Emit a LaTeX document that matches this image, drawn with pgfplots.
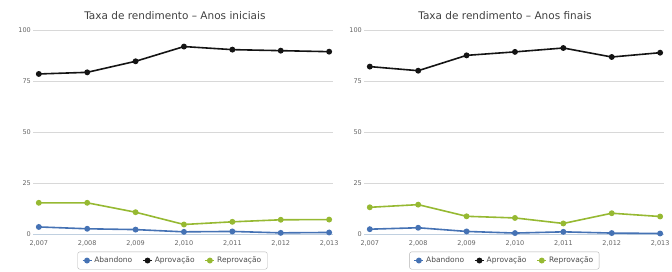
\documentclass[border=0pt]{standalone}
\usepackage{pgfplots}
\pgfplotsset{compat=1.18}
\usepackage{fontspec}
\setmainfont{DejaVu Sans}
\definecolor{cAb}{RGB}{69,114,180}
\definecolor{cAp}{RGB}{20,20,20}
\definecolor{cRe}{RGB}{150,185,50}
\definecolor{cGrid}{RGB}{216,216,216}
\definecolor{cAxis}{RGB}{192,208,224}
\definecolor{cTxt}{RGB}{100,100,100}
\pgfplotsset{
  myaxis/.style={
    scale only axis, width=300pt, height=204.5pt,
    xmin=2006.88, xmax=2013.08, ymin=0, ymax=100,
    axis x line*=bottom, axis y line*=left,
    x axis line style={draw=cAxis, line width=0.8pt, -},
    y axis line style={draw=none},
    xtick={2007,2008,2009,2010,2011,2012,2013},
    xticklabels={{2,007},{2,008},{2,009},{2,010},{2,011},{2,012},{2,013}},
    ytick={0,25,50,75,100},
    major tick length=0pt,
    ymajorgrids, grid style={cGrid, line width=0.6pt},
    tick label style={font=\fontsize{6.5}{7}\selectfont, text=cTxt},
    xticklabel style={inner sep=1pt, yshift=-5pt},
    yticklabel style={inner sep=1pt, xshift=-1pt},
    /pgf/number format/assume math mode=true,
    title style={font=\fontsize{10.5}{12}\selectfont, text=black!75, anchor=center, yshift=8pt},
    legend columns=3,
    legend style={draw=gray!60, rounded corners=2pt, font=\fontsize{7.5}{8}\selectfont, text=black!70,
      inner xsep=4pt, inner ysep=3pt, anchor=north,
      /tikz/every even column/.append style={column sep=8pt}},
    legend image code/.code={\draw[mark repeat=2, mark phase=2] plot coordinates {(0pt,0pt)(4.5pt,0pt)(9pt,0pt)};},
    every axis plot/.append style={line width=1.6pt, mark=*, mark size=2.1pt},
  }
}
\begin{document}
\begin{tikzpicture}
\path[use as bounding box] (0pt,0pt) rectangle (672pt,271pt);
\begin{axis}[myaxis, at={(33pt,36.5pt)}, anchor=south west,
  title={Taxa de rendimento – Anos iniciais}, title style={at={(0.473,1)}},
  legend style={at={(0.465,-0.084)}}]
\addplot[color=cAb, mark options={fill=cAb}] coordinates {(2007,3.7)(2008,2.8)(2009,2.4)(2010,1.3)(2011,1.5)(2012,0.8)(2013,1.0)};
\addlegendentry{Abandono}
\addplot[color=cAp, mark options={fill=cAp}] coordinates {(2007,78.5)(2008,79.3)(2009,84.7)(2010,91.9)(2011,90.4)(2012,89.9)(2013,89.4)};
\addlegendentry{Aprovação}
\addplot[color=cRe, mark options={fill=cRe}] coordinates {(2007,15.5)(2008,15.5)(2009,10.9)(2010,4.9)(2011,6.2)(2012,7.2)(2013,7.3)};
\addlegendentry{Reprovação}
\end{axis}
\begin{axis}[myaxis, at={(364pt,36.5pt)}, anchor=south west,
  title={Taxa de rendimento – Anos finais}, title style={at={(0.47,1)}},
  legend style={at={(0.468,-0.084)}}]
\addplot[color=cAb, mark options={fill=cAb}] coordinates {(2007,2.6)(2008,3.3)(2009,1.5)(2010,0.7)(2011,1.3)(2012,0.7)(2013,0.5)};
\addlegendentry{Abandono}
\addplot[color=cAp, mark options={fill=cAp}] coordinates {(2007,82.1)(2008,80.1)(2009,87.6)(2010,89.3)(2011,91.2)(2012,86.8)(2013,88.9)};
\addlegendentry{Aprovação}
\addplot[color=cRe, mark options={fill=cRe}] coordinates {(2007,13.3)(2008,14.6)(2009,8.9)(2010,8.1)(2011,5.4)(2012,10.4)(2013,8.8)};
\addlegendentry{Reprovação}
\end{axis}
\end{tikzpicture}
\end{document}
